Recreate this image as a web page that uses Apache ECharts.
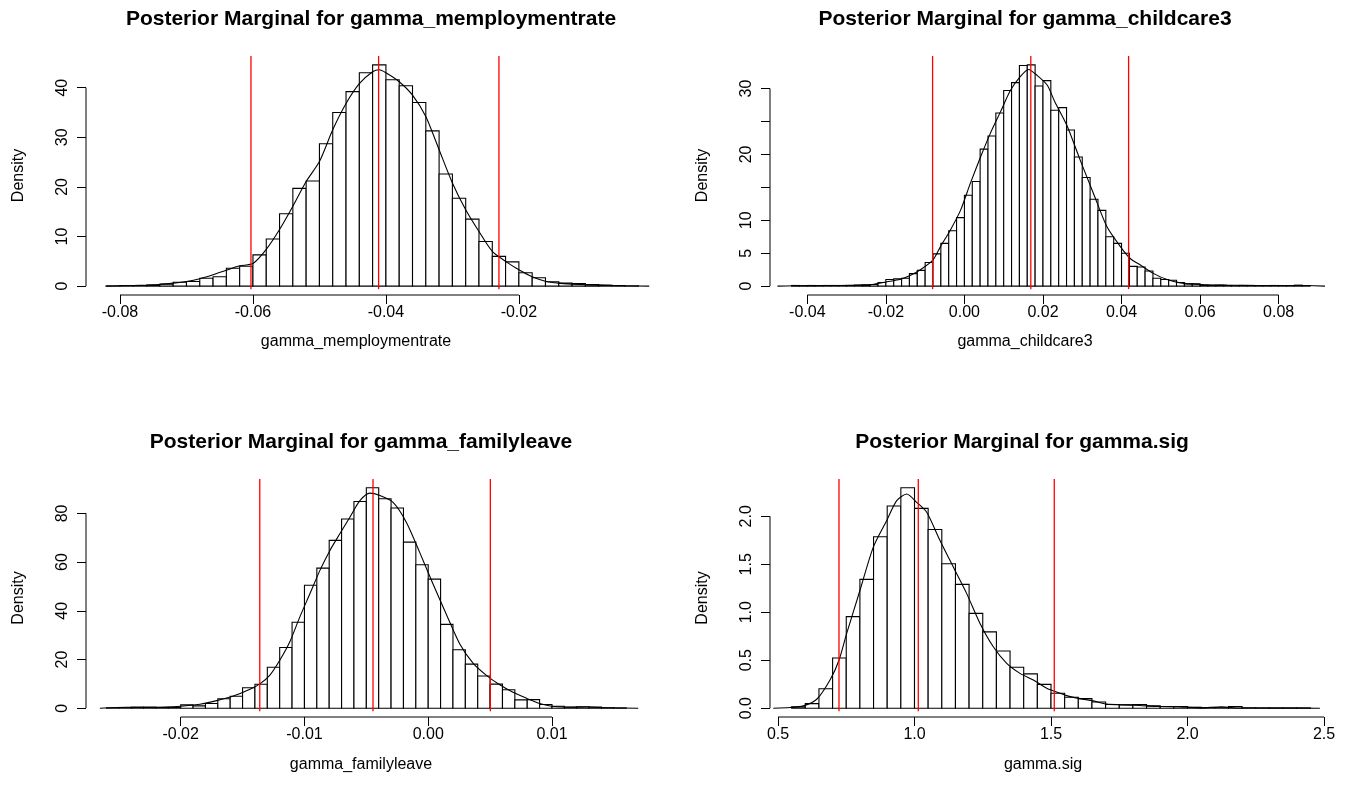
<!DOCTYPE html>
<html><head><meta charset="utf-8">
<script src="https://cdn.jsdelivr.net/npm/echarts@6/dist/echarts.min.js"></script>
<style>html,body{margin:0;padding:0;background:#fff}#c{width:1354px;height:806px}</style>
</head><body><div id="c"></div>
<script>
const titles = ['Posterior Marginal for gamma_memploymentrate','Posterior Marginal for gamma_childcare3','Posterior Marginal for gamma_familyleave','Posterior Marginal for gamma.sig'];
const xNames = ['gamma_memploymentrate','gamma_childcare3','gamma_familyleave','gamma.sig'];
const yName = 'Density';

// Panel 1
const p1BinStart = -0.082, p1BinWidth = 0.002;
const p1Hist = [0.05,0.1,0.1,0.2,0.4,0.8,0.94,1.6,1.9,3.6,4.0,6.3,9.5,14.6,19.7,21.2,28.7,35.0,39.2,43.0,44.6,41.6,40.4,37.0,31.3,22.6,17.7,13.5,9.0,6.0,4.9,2.7,1.7,0.9,0.6,0.5,0.3,0.2,0.1,0.05];
const p1CurveX = [-0.0822,-0.080,-0.076,-0.074,-0.072,-0.070,-0.068,-0.066,-0.064,-0.062,-0.060,-0.058,-0.056,-0.054,-0.052,-0.050,-0.048,-0.046,-0.044,-0.042,-0.041,-0.040,-0.038,-0.036,-0.034,-0.032,-0.030,-0.028,-0.026,-0.024,-0.022,-0.020,-0.018,-0.016,-0.014,-0.012,-0.010,-0.008,-0.006,-0.004,-0.0004];
const p1CurveY = [0,0.07,0.2,0.33,0.6,0.95,1.5,2.3,3.2,4.1,4.55,7.4,11.4,16.1,21.1,25.1,31.5,36.8,40.8,43.2,43.6,43.0,41.2,38.5,34.2,27.5,20.8,15.4,11.0,7.0,5.0,3.3,1.9,1.0,0.6,0.4,0.27,0.2,0.13,0.07,0];
const p1Quant = [-0.0603,-0.0411,-0.0230];
const p1XTicks = [-0.08,-0.06,-0.04,-0.02];
const p1YTicks = [0,10,20,30,40];
const p1YLabels = [0,10,20,30,40];

// Panel 2
const p2BinStart = -0.044, p2BinWidth = 0.002;
const p2Hist = [0.1,0.05,0.1,0.05,0.1,0.1,0.05,0.1,0.15,0.2,0.25,
  0.55,1.0,1.1,1.2,1.9,2.4,3.6,4.9,6.5,8.4,10.4,
  13.8,15.9,20.8,22.8,26.3,29.7,30.9,33.5,33.6,30.4,
  31.2,26.7,27.1,23.7,19.6,16.5,13.2,11.5,7.5,6.5,
  5.0,3.0,2.9,2.3,1.2,1.0,0.9,0.55,0.35,0.35,
  0.15,0.1,0.15,0.1,0.05,0.1,0.1,0.05,0.05,0.1,0.05,0.05,0.15,0.05];
const p2CurveX = [-0.0476,-0.0434,-0.0349,-0.0264,-0.0230,-0.0197,-0.0163,-0.0137,-0.0112,-0.0081,-0.0061,-0.0036,-0.0010,0.0015,0.0041,0.0066,0.0092,0.0117,0.0142,0.0163,0.0185,0.0211,0.0230,0.0261,0.0295,0.0329,0.0363,0.0397,0.0422,0.0448,0.0482,0.0516,0.0550,0.0601,0.0669,0.0745,0.0872,0.0918];
const p2CurveY = [0,0.05,0.1,0.15,0.3,0.66,1.06,1.67,2.5,3.9,6.0,8.5,11.5,15.6,19.6,23.2,26.5,29.7,31.8,32.9,32.0,30.5,28.0,24.4,19.1,14.0,9.0,6.0,4.2,3.2,1.9,1.0,0.5,0.25,0.15,0.1,0.1,0];
const p2Quant = [-0.0081,0.0169,0.0418];
const p2XTicks = [-0.04,-0.02,0,0.02,0.04,0.06,0.08];
const p2YTicks = [0,5,10,15,20,25,30];
const p2YLabels = [0,5,10,20,30];

// Panel 3
const p3BinStart = -0.026, p3BinWidth = 0.001;
const p3Hist = [0.1,0.2,0.4,0.4,0.3,0.3,
  1.36,0.95,1.9,3.9,4.9,8.4,9.8,16.8,24.9,35.3,
  50.5,57.5,68.9,77.7,84.9,90.5,86.0,82.2,68.2,58.9,
  53.0,34.4,24.0,18.1,13.2,9.9,7.6,3.4,3.5,1.5,
  0.8,0.5,0.6,0.5,0.2,0.1];
const p3CurveX = [-0.02653,-0.02437,-0.02221,-0.0200,-0.01844,-0.01709,-0.01575,-0.0144,-0.0136,-0.01279,-0.01198,-0.01118,-0.01037,-0.00956,-0.00875,-0.00794,-0.00714,-0.00633,-0.00552,-0.00471,-0.0039,-0.00284,-0.00176,-0.00069,0.00039,0.00147,0.00254,0.00362,0.0047,0.00578,0.00685,0.00793,0.009,0.01008,0.01169,0.01277,0.01439,0.01697];
const p3CurveY = [0,0.4,0.4,0.8,1.6,3.1,5.0,7.8,10.0,13.6,19.8,27.3,37.5,47.0,56.6,64.8,71.6,78.4,85.2,88.3,87.3,84.5,76.3,64,51,38.5,26.5,18.5,13.5,9.6,6.5,4.1,1.9,0.7,0.4,0.5,0.15,0];
const p3Quant = [-0.01361,-0.00446,0.00502];
const p3XTicks = [-0.02,-0.01,0,0.01];
const p3YTicks = [0,20,40,60,80];
const p3YLabels = [0,20,40,60,80];

// Panel 4
const p4BinStart = 0.55, p4BinWidth = 0.05;
const p4Hist = [0.014,0.048,0.203,0.523,0.954,1.343,1.787,2.107,2.297,2.083,
  1.863,1.505,1.291,0.988,0.795,0.596,0.427,0.358,0.248,0.155,
  0.114,0.1,0.065,0.038,0.034,0.038,0.024,0.017,0.017,0.01,
  0.005,0.005,0.017,0.004,0.003,0.003,0.003,0.003];
const p4CurveX = [0.4828,0.544,0.5927,0.6418,0.6905,0.7234,0.7516,0.8004,0.8491,0.8982,0.9348,0.9714,1.008,1.0447,1.0934,1.1421,1.1912,1.24,1.2886,1.3377,1.3864,1.4352,1.4842,1.533,1.5575,1.6062,1.655,1.704,1.7773,1.826,1.899,1.972,2.046,2.125,2.192,2.314,2.485];
const p4CurveY = [0,0.007,0.024,0.093,0.294,0.5,0.779,1.229,1.679,1.956,2.163,2.233,2.146,2.042,1.748,1.471,1.194,0.883,0.64,0.467,0.363,0.294,0.208,0.156,0.131,0.1,0.076,0.042,0.035,0.028,0.017,0.014,0.003,0.014,0.002,0.001,0];
const p4Quant = [0.7234,1.0139,1.512];
const p4XTicks = [0.5,1.0,1.5,2.0,2.5];
const p4YTicks = [0,0.5,1.0,1.5,2.0];
const p4YLabels = [0,0.5,1.0,1.5,2.0];

const FONT = 'Liberation Sans, Arial, Helvetica, sans-serif';
const panels = [
  {binStart:p1BinStart,binWidth:p1BinWidth,hist:p1Hist,cx:p1CurveX,cy:p1CurveY,q:p1Quant,xt:p1XTicks,yt:p1YTicks,yl:p1YLabels,xd:2,yd:0,
   grid:{left:86,top:56,width:564,height:239},xmin:-0.085114,xmax:-0.000277,titleX:371,titleY:19,xnameX:356,xnameY:342},
  {binStart:p2BinStart,binWidth:p2BinWidth,hist:p2Hist,cx:p2CurveX,cy:p2CurveY,q:p2Quant,xt:p2XTicks,yt:p2YTicks,yl:p2YLabels,xd:2,yd:0,
   grid:{left:770,top:56,width:561,height:239},xmin:-0.0495,xmax:0.09333,titleX:1025,titleY:19,xnameX:1025,xnameY:342},
  {binStart:p3BinStart,binWidth:p3BinWidth,hist:p3Hist,cx:p3CurveX,cy:p3CurveY,q:p3Quant,xt:p3XTicks,yt:p3YTicks,yl:p3YLabels,xd:2,yd:0,
   grid:{left:86,top:479,width:564,height:238},xmin:-0.02765,xmax:0.01792,titleX:361,titleY:442,xnameX:361,xnameY:765},
  {binStart:p4BinStart,binWidth:p4BinWidth,hist:p4Hist,cx:p4CurveX,cy:p4CurveY,q:p4Quant,xt:p4XTicks,yt:p4YTicks,yl:p4YLabels,xd:1,yd:1,
   grid:{left:770,top:479,width:561,height:238},xmin:0.4707,xmax:2.5256,titleX:1022,titleY:442,xnameX:1043,xnameY:765}
];

const grids=[], xAxes=[], yAxes=[], series=[], graphics=[];
panels.forEach((p,i)=>{
  const Y = Math.max(...p.hist);
  const ymin = -0.04*Y, ymax = 1.04*Y;
  grids.push(p.grid);
  xAxes.push({type:'value',gridIndex:i,min:p.xmin,max:p.xmax,
    axisLine:{show:false,onZero:false},splitLine:{show:false},
    axisTick:{show:true,length:9,customValues:p.xt,lineStyle:{color:'#000',width:1}},
    axisLabel:{customValues:p.xt,color:'#000',fontSize:16,fontFamily:FONT,margin:10,
      formatter:v=>Number(v).toFixed(p.xd)}});
  yAxes.push({type:'value',gridIndex:i,min:ymin,max:ymax,
    axisLine:{show:false,onZero:false},splitLine:{show:false},
    axisTick:{show:true,length:9,customValues:p.yt,lineStyle:{color:'#000',width:1}},
    axisLabel:{customValues:p.yl,color:'#000',fontSize:16,fontFamily:FONT,margin:15,rotate:90,
      formatter:v=>Number(v).toFixed(p.yd)}});
  // histogram
  series.push({type:'custom',xAxisIndex:i,yAxisIndex:i,silent:true,
    data:p.hist.map((h,k)=>[p.binStart+k*p.binWidth,p.binStart+(k+1)*p.binWidth,h]),
    encode:{x:[0,1],y:2},
    renderItem:(params,api)=>{
      const a=api.coord([api.value(0),api.value(2)]);
      const b=api.coord([api.value(1),0]);
      return {type:'rect',shape:{x:a[0],y:a[1],width:b[0]-a[0],height:b[1]-a[1]},
        style:{fill:'#fff',stroke:'#000',lineWidth:1.1}};
    }});
  // density curve
  series.push({type:'line',xAxisIndex:i,yAxisIndex:i,silent:true,showSymbol:false,symbol:'none',
    smooth:0.25,data:p.cx.map((x,k)=>[x,p.cy[k]]),lineStyle:{color:'#000',width:1.1},z:3});
  // red quantile lines
  series.push({type:'custom',xAxisIndex:i,yAxisIndex:i,silent:true,z:4,
    data:p.q.map(v=>[v]),encode:{x:0},
    renderItem:(params,api)=>{
      const a=api.coord([api.value(0),ymax]);
      const b=api.coord([api.value(0),0]);
      return {type:'line',shape:{x1:a[0],y1:a[1],x2:b[0],y2:b[1]+3},style:{stroke:'#ff0000',lineWidth:1.3}};
    }});
  // R-style axis lines (span first to last tick)
  series.push({type:'line',xAxisIndex:i,yAxisIndex:i,silent:true,showSymbol:false,symbol:'none',clip:false,
    data:[[p.xt[0],ymin],[p.xt[p.xt.length-1],ymin]],lineStyle:{color:'#000',width:1}});
  series.push({type:'line',xAxisIndex:i,yAxisIndex:i,silent:true,showSymbol:false,symbol:'none',clip:false,
    data:[[p.xmin,p.yt[0]],[p.xmin,p.yt[p.yt.length-1]]],lineStyle:{color:'#000',width:1}});
  // titles and axis names
  graphics.push({type:'text',x:p.titleX,y:p.titleY,style:{text:titles[i],fill:'#000',font:'bold 21px '+FONT,textAlign:'center',textVerticalAlign:'middle'}});
  graphics.push({type:'text',x:p.xnameX,y:p.xnameY,style:{text:xNames[i],fill:'#000',font:'16px '+FONT,textAlign:'center',textVerticalAlign:'middle'}});
  graphics.push({type:'text',x:(i%2===1)?703:19,y:p.grid.top+p.grid.height/2,rotation:Math.PI/2,
    style:{text:yName,fill:'#000',font:'16px '+FONT,textAlign:'center',textVerticalAlign:'middle'}});
});

const chart = echarts.init(document.getElementById('c'),null,{renderer:'canvas'});
chart.setOption({animation:false,backgroundColor:'#fff',grid:grids,xAxis:xAxes,yAxis:yAxes,series:series,graphic:graphics});
</script></body></html>
